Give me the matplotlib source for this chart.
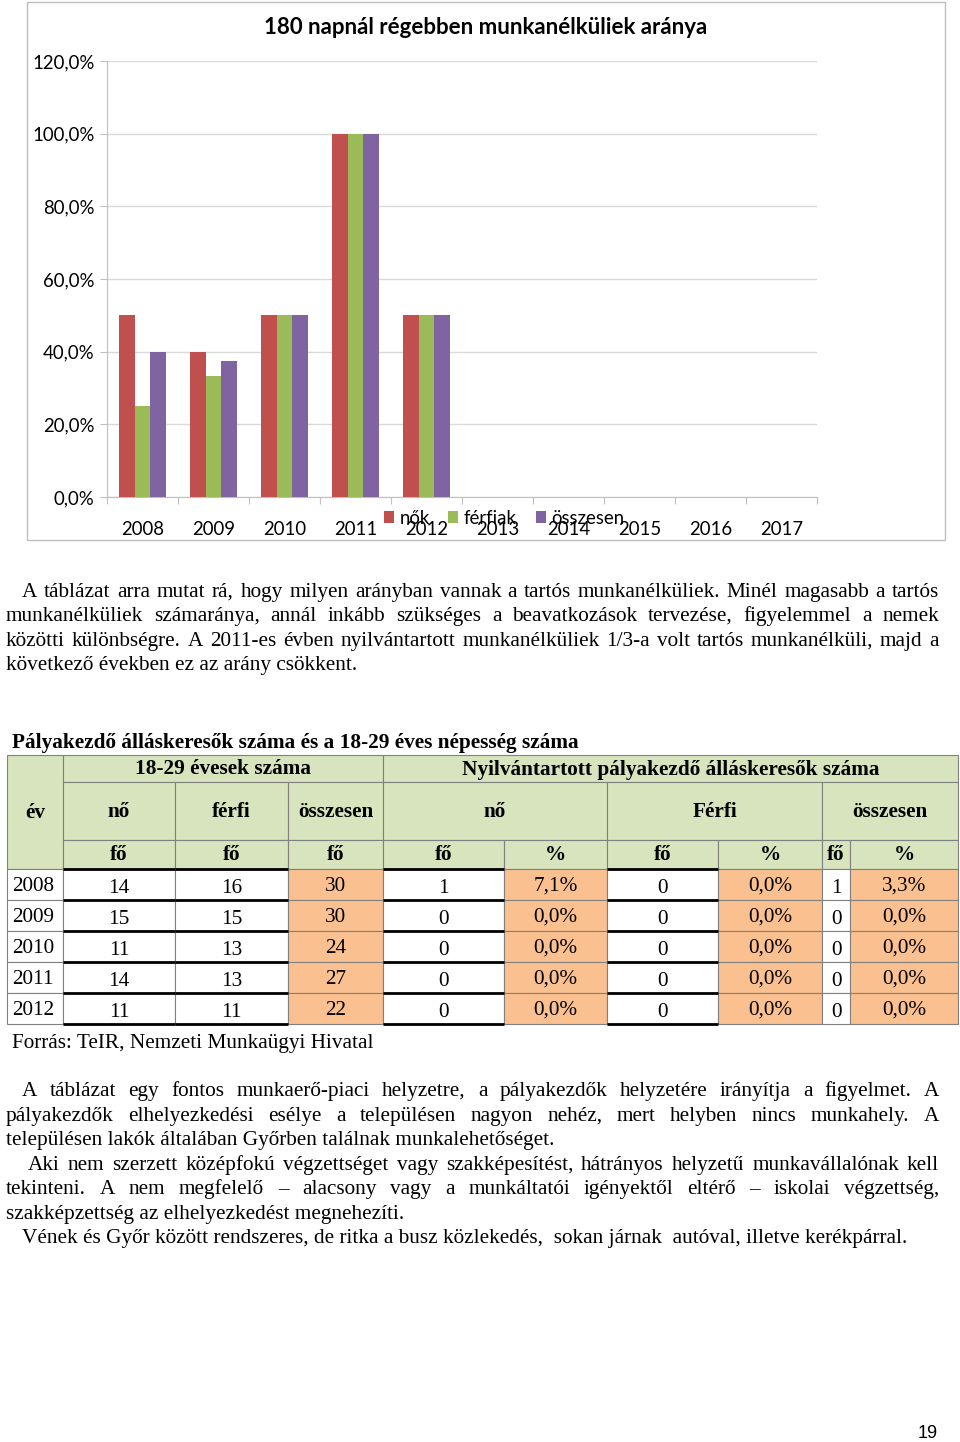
import matplotlib
matplotlib.use('Agg')
import matplotlib.pyplot as plt
from matplotlib.patches import Rectangle
import numpy as np

# ---- adatok: diagram ----
evek_diagram = ['2008', '2009', '2010', '2011', '2012', '2013', '2014', '2015', '2016', '2017']
nok = [50.0, 40.0, 50.0, 100.0, 50.0]
ferfiak = [25.0, 33.3, 50.0, 100.0, 50.0]
osszesen = [40.0, 37.5, 50.0, 100.0, 50.0]
y_ticks = [0, 20, 40, 60, 80, 100, 120]

# ---- adatok: táblázat ----
ev = ['2008', '2009', '2010', '2011', '2012']
no_18_29 = [14, 15, 11, 14, 11]
ferfi_18_29 = [16, 15, 13, 13, 11]
ossz_18_29 = [30, 30, 24, 27, 22]
no_fo = [1, 0, 0, 0, 0]
no_szaz = [7.1, 0.0, 0.0, 0.0, 0.0]
ferfi_fo = [0, 0, 0, 0, 0]
ferfi_szaz = [0.0, 0.0, 0.0, 0.0, 0.0]
ossz_fo = [1, 0, 0, 0, 0]
ossz_szaz = [3.3, 0.0, 0.0, 0.0, 0.0]

W, H = 960, 1442
SERIF = 'Liberation Serif'
SANS = 'Lato'

fig = plt.figure(figsize=(W / 100, H / 100), dpi=100)
pg = fig.add_axes([0, 0, 1, 1])
pg.set_xlim(0, W)
pg.set_ylim(H, 0)
pg.axis('off')


def fx(x):
    return x / W


def fy(y):
    return 1 - y / H


# ---- diagram ----
pg.add_patch(Rectangle((27, 2), 918, 538, fill=False, edgecolor='#BFBFBF', lw=1))

ax_l, ax_r, ax_b, ax_t = 107, 817, 497, 61
ax = fig.add_axes([fx(ax_l), fy(ax_b), (ax_r - ax_l) / W, (ax_b - ax_t) / H])
ax.patch.set_alpha(0)
x = np.arange(len(nok))
bw = 0.22
ax.bar(x - bw, nok, bw, color='#C0504D', label='nők', zorder=3)
ax.bar(x, ferfiak, bw, color='#9BBB59', label='férfiak', zorder=3)
ax.bar(x + bw, osszesen, bw, color='#8064A2', label='összesen', zorder=3)
ax.set_xlim(-0.5, len(evek_diagram) - 0.5)
ax.set_ylim(0, 120)
ax.set_yticks(y_ticks)
ax.set_yticklabels([f'{v:.1f}%'.replace('.', ',') for v in y_ticks], fontsize=13.4, family=SANS)
ax.grid(axis='y', color='#D9D9D9', lw=1, zorder=0)
ax.set_xticks(np.arange(len(evek_diagram) + 1) - 0.5)
ax.set_xticklabels([])
ax.set_xticks(np.arange(len(evek_diagram)), minor=True)
ax.set_xticklabels(evek_diagram, minor=True, fontsize=13.4, family=SANS)
ax.tick_params(axis='x', which='minor', length=0, pad=17)
ax.tick_params(axis='x', which='major', length=5, color='#BFBFBF')
ax.tick_params(axis='y', length=5, color='#BFBFBF', pad=4)
for s in ['top', 'right']:
    ax.spines[s].set_visible(False)
for s in ['left', 'bottom']:
    ax.spines[s].set_color('#BFBFBF')
# a jelmagyarázat az eredetiben is rácsúszik az évszámokra
ax.legend(ncol=3, loc='center', bbox_to_anchor=(fx(504), fy(518)),
          bbox_transform=fig.transFigure, frameon=False,
          handlelength=0.55, handleheight=0.55, handletextpad=0.3,
          columnspacing=1.0, prop={'family': SANS, 'size': 13.4})
fig.text(fx(486), fy(27), '180 napnál régebben munkanélküliek aránya', ha='center', va='center',
         fontsize=16, fontweight='bold', family=SANS)

# ---- szöveg ----
FS = 15.3
renderer = fig.canvas.get_renderer()


def sor(s, x0, x1, base, justify=True, **kw):
    props = dict(fontsize=FS, family=SERIF, va='baseline')
    props.update(kw)
    if not justify:
        pg.text(x0, base, s, **props)
        return
    words = s.split()
    ts = [pg.text(0, base, w, **props) for w in words]
    ws = [t.get_window_extent(renderer).width for t in ts]
    gap = (x1 - x0 - sum(ws)) / (len(ws) - 1)
    xx = x0
    for t, w in zip(ts, ws):
        t.set_x(xx)
        xx += w + gap


sor('A táblázat arra mutat rá, hogy milyen arányban vannak a tartós munkanélküliek. Minél magasabb a tartós', 22, 939, 597)
sor('munkanélküliek számaránya, annál inkább szükséges a beavatkozások tervezése, figyelemmel a nemek', 6, 939, 621)
sor('közötti különbségre. A 2011-es évben nyilvántartott munkanélküliek 1/3-a volt tartós munkanélküli, majd a', 6, 939, 646)
sor('következő években ez az arány csökkent.', 6, 939, 670, justify=False)

sor('A táblázat egy fontos munkaerő-piaci helyzetre, a pályakezdők helyzetére irányítja a figyelmet. A', 22, 939, 1096)
sor('pályakezdők elhelyezkedési esélye a településen nagyon nehéz, mert helyben nincs munkahely. A', 6, 939, 1121)
sor('településen lakók általában Győrben találnak munkalehetőséget.', 6, 939, 1145, justify=False)
sor('Aki nem szerzett középfokú végzettséget vagy szakképesítést, hátrányos helyzetű munkavállalónak kell', 28, 939, 1170)
sor('tekinteni.  A nem megfelelő – alacsony vagy a munkáltatói igényektől eltérő – iskolai végzettség,', 6, 939, 1194)
sor('szakképzettség az elhelyezkedést megnehezíti.', 6, 939, 1219, justify=False)
sor('Vének és Győr között rendszeres, de ritka a busz közlekedés,  sokan járnak  autóval, illetve kerékpárral.', 22, 939, 1243, justify=False)

pg.text(12, 748, 'Pályakezdő álláskeresők száma és a 18-29 éves népesség száma', fontsize=FS,
        family=SERIF, fontweight='bold', va='baseline')
pg.text(12, 1048, 'Forrás: TeIR, Nemzeti Munkaügyi Hivatal', fontsize=FS, family=SERIF, va='baseline')
pg.text(928, 1433, '19', fontsize=13, family='Liberation Sans', ha='center', va='center')

# ---- táblázat ----
ZOLD = '#D7E4BD'
NARANCS = '#FAC090'
KERET = '#808080'
cx = [7, 63, 175, 288, 383, 504, 607, 718, 822, 850, 958]


def cella(x0, x1, y0, y1, fill, txt='', bold=False, ha='center', dy=1):
    pg.add_patch(Rectangle((x0, y0), x1 - x0, y1 - y0, facecolor=fill, edgecolor=KERET, lw=0.8))
    if txt != '':
        tx = (x0 + x1) / 2 if ha == 'center' else x0 + 5
        pg.text(tx, (y0 + y1) / 2 + dy, txt, ha=ha, va='center', fontsize=FS, family=SERIF,
                fontweight='bold' if bold else 'normal')


r0, r1, r2, r3 = 755, 782, 840, 869
cella(cx[0], cx[1], r0, r3, ZOLD, 'év', True)
cella(cx[1], cx[4], r0, r1, ZOLD, '18-29 évesek száma', True)
cella(cx[4], cx[10], r0, r1, ZOLD, 'Nyilvántartott pályakezdő álláskeresők száma', True)
fej2 = [(1, 2, 'nő'), (2, 3, 'férfi'), (3, 4, 'összesen'), (4, 6, 'nő'), (6, 8, 'Férfi'), (8, 10, 'összesen')]
for a, b, t in fej2:
    cella(cx[a], cx[b], r1, r2, ZOLD, t, True)
fej3 = ['fő', 'fő', 'fő', 'fő', '%', 'fő', '%', 'fő', '%']
for i, t in enumerate(fej3):
    cella(cx[i + 1], cx[i + 2], r2, r3, ZOLD, t, True)

sm = 31
feher = [1, 2, 4, 6]
for i in range(len(ev)):
    y0 = r3 + i * sm
    y1 = y0 + sm
    ertekek = [str(no_18_29[i]), str(ferfi_18_29[i]), str(ossz_18_29[i]), str(no_fo[i]),
               f'{no_szaz[i]:.1f}%'.replace('.', ','), str(ferfi_fo[i]),
               f'{ferfi_szaz[i]:.1f}%'.replace('.', ','), str(ossz_fo[i]),
               f'{ossz_szaz[i]:.1f}%'.replace('.', ',')]
    cella(cx[0], cx[1], y0, y1, 'white', ev[i], ha='left', dy=2)
    for j, t in enumerate(ertekek):
        col = j + 1
        fill = 'white' if col in feher or col == 8 else NARANCS
        cella(cx[col], cx[col + 1], y0, y1, fill, t, dy=4 if fill == 'white' else 2)
    for col in feher:
        pg.plot([cx[col], cx[col + 1]], [y0, y0], color='black', lw=2, solid_capstyle='butt')
        if i == len(ev) - 1:
            pg.plot([cx[col], cx[col + 1]], [y1, y1], color='black', lw=2, solid_capstyle='butt')

fig.savefig('out.png', dpi=100)
